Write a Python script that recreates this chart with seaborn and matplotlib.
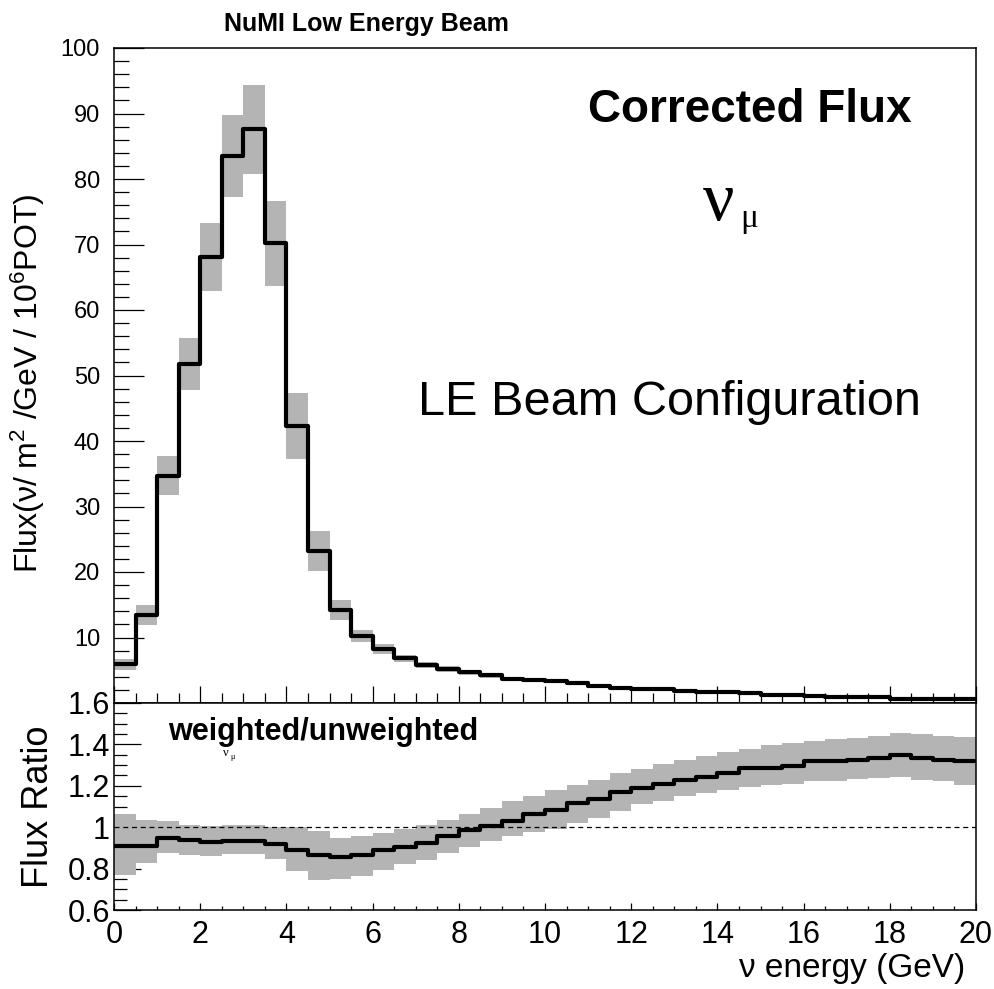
import numpy as np
import pandas as pd
import matplotlib
matplotlib.use("Agg")
import matplotlib.pyplot as plt
from matplotlib.ticker import MultipleLocator, FixedLocator
import seaborn as sns

# ---- data: 40 bins of 0.5 GeV from 0 to 20 GeV ----
bin_edges = np.arange(0.0, 20.01, 0.5)

flux = [5.9, 13.4, 34.7, 51.8, 68.1, 83.5, 87.6, 70.2, 42.3, 23.2,
        14.2, 10.2, 8.3, 6.8, 5.8, 5.2, 4.7, 4.2, 3.7, 3.5,
        3.3, 3.1, 2.6, 2.35, 2.1, 2.1, 1.9, 1.75, 1.7, 1.5,
        1.15, 1.15, 1.1, 0.9, 0.9, 0.9, 0.65, 0.65, 0.65, 0.65]

flux_err = [0.8, 1.5, 3.0, 4.0, 5.2, 6.3, 6.8, 6.5, 5.0, 3.0,
            1.5, 0.9, 0.75, 0.6, 0.5, 0.45, 0.4, 0.35, 0.3, 0.3,
            0.28, 0.26, 0.24, 0.22, 0.2, 0.2, 0.18, 0.17, 0.16, 0.15,
            0.14, 0.13, 0.12, 0.11, 0.1, 0.1, 0.1, 0.1, 0.1, 0.1]

ratio = [0.911, 0.911, 0.948, 0.937, 0.927, 0.935, 0.935, 0.921, 0.892, 0.865,
         0.855, 0.868, 0.890, 0.903, 0.924, 0.956, 0.985, 1.005, 1.029, 1.065,
         1.082, 1.115, 1.137, 1.171, 1.190, 1.211, 1.229, 1.244, 1.260, 1.287,
         1.287, 1.295, 1.319, 1.319, 1.327, 1.335, 1.348, 1.332, 1.327, 1.319]

ratio_hi = [1.066, 1.034, 1.030, 1.013, 1.008, 1.013, 1.013, 1.000, 1.000, 0.980,
            0.948, 0.956, 0.970, 0.990, 1.013, 1.037, 1.066, 1.094, 1.126, 1.153,
            1.182, 1.206, 1.230, 1.263, 1.282, 1.303, 1.327, 1.344, 1.365, 1.376,
            1.395, 1.408, 1.416, 1.424, 1.432, 1.440, 1.456, 1.448, 1.440, 1.437]

ratio_lo = [0.770, 0.827, 0.876, 0.865, 0.860, 0.871, 0.871, 0.845, 0.790, 0.747,
            0.750, 0.763, 0.795, 0.820, 0.840, 0.876, 0.905, 0.932, 0.956, 0.976,
            0.989, 1.021, 1.045, 1.077, 1.110, 1.126, 1.150, 1.166, 1.182, 1.194,
            1.206, 1.210, 1.223, 1.223, 1.231, 1.239, 1.244, 1.230, 1.223, 1.206]

top_yticks = [10, 20, 30, 40, 50, 60, 70, 80, 90, 100]
ratio_yticks = [0.6, 0.8, 1.0, 1.2, 1.4, 1.6]
ratio_yticklabels = ["0.6", "0.8", "1", "1.2", "1.4", "1.6"]
xticks = [0, 2, 4, 6, 8, 10, 12, 14, 16, 18, 20]

# ---- style ----
sns.set_theme(style="white")
plt.rcParams["font.family"] = ["Liberation Sans", "DejaVu Sans"]
plt.rcParams["mathtext.fontset"] = "custom"
plt.rcParams["mathtext.rm"] = "Liberation Sans"
plt.rcParams["mathtext.it"] = "Liberation Sans:italic"
plt.rcParams["mathtext.bf"] = "Liberation Sans:bold"
for key in ("text.color", "axes.labelcolor", "xtick.color", "ytick.color",
            "axes.edgecolor"):
    plt.rcParams[key] = "black"

BAND = "#b4b4b4"
W, H = 994, 989
fig = plt.figure(figsize=(W / 100, H / 100), dpi=100)


def fx(px):
    return px / W


def fy(py):
    return 1 - py / H


ax_top = fig.add_axes([fx(114), fy(703), fx(976) - fx(114), fy(48) - fy(703)])
ax_bot = fig.add_axes([fx(114), fy(910), fx(976) - fx(114), fy(703) - fy(910)])

left = bin_edges[:-1]
width = np.diff(bin_edges)


# step outline helper: repeat the last value so the final bin is closed
def step_frame(values):
    return pd.DataFrame({"energy": bin_edges,
                         "value": list(values) + [values[-1]]})


# ---- upper panel: flux ----
flux_a = np.array(flux)
ferr_a = np.array(flux_err)
ax_top.bar(left, 2 * ferr_a, bottom=flux_a - ferr_a, width=width,
           align="edge", color=BAND, linewidth=0, zorder=1)
sns.lineplot(data=step_frame(flux), x="energy", y="value", ax=ax_top,
             drawstyle="steps-post", estimator=None, color="black",
             linewidth=3.0, zorder=3)

ax_top.set_xlim(0, 20)
ax_top.set_ylim(0, 100)
ax_top.set_xlabel("")
ax_top.set_ylabel("")
ax_top.yaxis.set_major_locator(FixedLocator(top_yticks))
ax_top.yaxis.set_minor_locator(MultipleLocator(2))
ax_top.xaxis.set_major_locator(FixedLocator(xticks))
ax_top.xaxis.set_minor_locator(MultipleLocator(0.5))
ax_top.tick_params(axis="y", which="major", direction="in", length=21.5,
                   width=0.9, labelsize=17, pad=10, left=True, right=False)
ax_top.tick_params(axis="y", which="minor", direction="in", length=10.8,
                   width=0.9, left=True, right=False)
ax_top.tick_params(axis="x", which="major", direction="in", length=12,
                   width=0.9, labelbottom=False, bottom=True, top=False)
ax_top.tick_params(axis="x", which="minor", direction="in", length=7,
                   width=0.9, bottom=True, top=False)

# ---- lower panel: ratio ----
r_hi = np.array(ratio_hi)
r_lo = np.array(ratio_lo)
ax_bot.bar(left, r_hi - r_lo, bottom=r_lo, width=width, align="edge",
           color=BAND, linewidth=0, zorder=1)
ax_bot.axhline(1.0, color="black", linewidth=0.9, linestyle=(0, (4, 3)),
               zorder=2)
sns.lineplot(data=step_frame(ratio), x="energy", y="value", ax=ax_bot,
             drawstyle="steps-post", estimator=None, color="black",
             linewidth=3.0, zorder=3)

ax_bot.set_xlim(0, 20)
ax_bot.set_ylim(0.6, 1.6)
ax_bot.set_xlabel("")
ax_bot.set_ylabel("")
ax_bot.yaxis.set_major_locator(FixedLocator(ratio_yticks))
ax_bot.set_yticklabels(ratio_yticklabels)
ax_bot.yaxis.set_minor_locator(MultipleLocator(0.05))
ax_bot.xaxis.set_major_locator(FixedLocator(xticks))
ax_bot.set_xticklabels([str(v) for v in xticks])
ax_bot.xaxis.set_minor_locator(MultipleLocator(0.5))
ax_bot.tick_params(axis="y", which="major", direction="in", length=19.5,
                   width=0.9, labelsize=22, pad=3, left=True, right=False)
ax_bot.tick_params(axis="y", which="minor", direction="in", length=9.5,
                   width=0.9, left=True, right=False)
ax_bot.tick_params(axis="x", which="major", direction="in", length=5,
                   width=0.9, labelsize=22, pad=7, bottom=True, top=False)
ax_bot.tick_params(axis="x", which="minor", direction="in", length=3,
                   width=0.9, bottom=True, top=False)

for ax in (ax_top, ax_bot):
    for sp in ax.spines.values():
        sp.set_visible(True)
        sp.set_color("black")
        sp.set_linewidth(1.1)
    ax.set_facecolor("white")
    ax.grid(False)

# ---- text ----
fig.text(fx(366), fy(24), "NuMI Low Energy Beam", fontsize=18,
         fontweight="bold", ha="center", va="center")
fig.text(fx(588), fy(122), "Corrected Flux", fontsize=33,
         fontweight="bold", ha="left", va="baseline")
# upright nu with a lowered mu subscript
fig.text(fx(703), fy(220), "ν", fontsize=50, family="Liberation Serif",
         ha="left", va="baseline")
fig.text(fx(740), fy(227), "μ", fontsize=24, family="Liberation Serif",
         ha="left", va="baseline")
fig.text(fx(418), fy(415), "LE Beam Configuration", fontsize=35,
         ha="left", va="baseline")
fig.text(fx(168), fy(740), "weighted/unweighted", fontsize=22,
         fontweight="bold", ha="left", va="baseline")
fig.text(fx(223), fy(756), "ν", fontsize=9, family="Liberation Serif",
         ha="left", va="baseline")
fig.text(fx(230), fy(759), "μ", fontsize=6, family="Liberation Serif",
         ha="left", va="baseline")
fig.text(fx(28), fy(383), r"Flux(ν/ m$^2$ /GeV / 10$^6$POT)", fontsize=23,
         rotation=90, ha="center", va="center")
fig.text(fx(38), fy(807), "Flux Ratio", fontsize=26,
         rotation=90, ha="center", va="center")
fig.text(fx(965), fy(977), "ν energy (GeV)", fontsize=24,
         ha="right", va="baseline")

fig.savefig("out.png", dpi=100, facecolor="white")
